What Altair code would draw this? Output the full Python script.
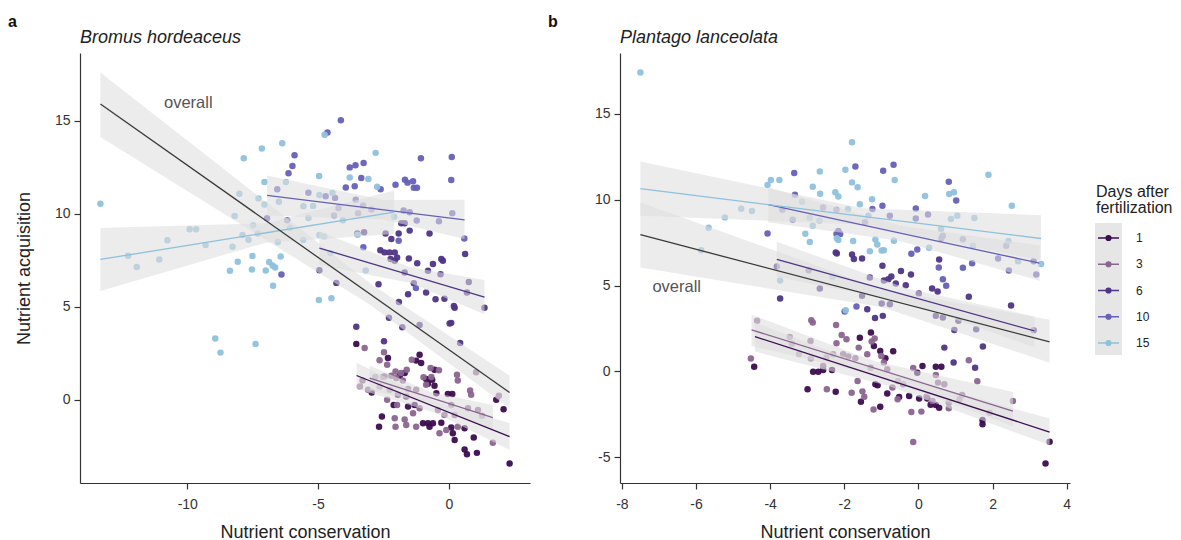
import altair as alt
import pandas as pd

DAYS = ["1", "3", "6", "10", "15"]
DAY_COLORS = ["#3b0c4f", "#8b6590", "#4f3585", "#6660b8", "#8ec1dc"]
OVERALL_COLOR = "#3a3a3a"
FONT = "Liberation Sans"

# ---------------- Panel a : Bromus hordeaceus ----------------
A1 = [(-3.54, 3.01), (-2.33, 2.25), (-1.12, 2.43), (-1.25, 2.11), (-1.06, 1.98), (-0.55, 1.62),
      (-2.95, 0.40), (-2.11, -0.27), (-2.56, -0.90), (-2.67, -1.44), (-1.88, 1.30), (-0.80, 0.86),
      (-0.87, 1.12), (-0.64, 1.08), (-0.55, 0.76), (-0.04, 0.31), (0.13, 0.31), (-0.99, -1.26),
      (-0.80, -1.26), (-0.61, -1.26), (-0.74, -1.44), (-0.29, -1.23), (0.09, -1.48), (0.15, -1.80),
      (0.22, -2.16), (0.60, -1.53), (0.95, -2.02), (0.60, -2.67), (0.69, -2.92), (1.07, -2.85),
      (1.81, 0.00), (2.09, -0.50), (2.32, -3.42), (-1.63, 0.18), (-1.56, -0.36), (-1.31, -0.27),
      (-0.48, 0.36), (-1.95, 0.27), (-1.69, 1.44)]
A3 = [(-3.22, 2.79), (-2.48, 2.56), (-2.65, 2.13), (-2.36, 1.89), (-2.04, 1.53), (-1.83, 1.44),
      (-1.61, 1.62), (-1.42, 2.16), (-2.01, 1.17), (-2.20, 1.30), (-2.46, 1.26), (-3.40, 0.72),
      (-3.30, 1.04), (-3.09, 0.54), (-2.52, 1.23), (-2.81, 1.23), (-1.76, 1.04), (-1.56, 0.58),
      (-1.25, 0.54), (-0.97, 1.21), (-0.87, 0.81), (-0.67, 1.23), (-0.38, 1.59), (-0.70, 1.71),
      (0.31, 1.35), (0.34, 1.04), (0.81, 0.50), (0.85, 0.27), (0.73, -0.45), (1.04, 1.48),
      (1.27, -0.86), (1.11, -0.54), (1.91, 0.22), (1.68, -2.31), (-2.36, 0.00), (-1.98, -0.27),
      (-2.07, -0.99), (-2.04, -1.44), (-1.69, -1.05), (-1.63, -1.35), (-1.25, -1.44), (-1.37, -0.72),
      (-1.12, -0.45), (-0.42, -0.54), (-0.36, -1.80), (-0.10, -1.62), (-0.17, -0.81), (0.22, -0.81),
      (0.09, -0.27), (0.34, -1.44), (-2.65, 0.72), (-2.26, 0.54)]
A6 = [(-4.95, 6.97), (-4.30, 6.29), (-3.54, 3.93), (-3.50, 8.95), (-3.24, 9.01), (-2.42, 8.95),
      (-2.20, 8.65), (-1.92, 8.95), (-1.50, 9.10), (-0.74, 8.95), (-1.82, 9.50), (-1.69, 9.50),
      (-2.62, 8.05), (-2.46, 7.93), (-2.27, 7.93), (-2.07, 7.93), (-1.98, 7.66), (-2.23, 7.57),
      (-2.07, 7.48), (-1.53, 7.60), (-1.21, 7.35), (-0.61, 7.30), (-0.29, 7.57), (-0.23, 7.48),
      (0.62, 7.84), (-2.69, 6.22), (-1.69, 6.85), (-1.34, 6.27), (-0.87, 5.77), (-1.56, 5.68),
      (-1.91, 5.26), (-0.51, 5.41), (-0.17, 5.44), (0.22, 4.95), (0.19, 5.05), (1.36, 4.95),
      (0.03, 4.11), (0.09, 4.14), (0.43, 3.06), (-1.12, 4.02), (-1.78, 3.91), (-2.29, 4.41),
      (-2.48, 3.15), (0.76, 6.34), (0.69, 5.77), (-0.80, 6.94), (-0.32, 6.76)]
A10 = [(-4.13, 15.03), (-4.64, 14.38), (-5.90, 13.15), (-5.98, 12.58), (-6.13, 12.18), (-3.79, 12.50),
       (-3.57, 12.61), (-3.26, 12.74), (-3.94, 11.42), (-3.60, 11.48), (-3.35, 11.93), (-2.61, 11.33),
       (-2.04, 11.57), (-1.68, 11.84), (-1.58, 11.68), (-1.37, 11.75), (-1.34, 11.41), (-1.22, 11.41),
       (-1.07, 12.99), (0.11, 13.06), (0.09, 11.82), (0.59, 8.68), (-1.26, 6.02), (-1.92, 8.56),
       (-3.27, 8.20), (-6.40, 6.74), (-6.56, 11.33), (-5.37, 11.14), (-4.71, 10.95), (-4.35, 10.86),
       (-4.22, 10.32), (-3.56, 10.76), (-3.28, 10.45), (-2.96, 10.23), (-1.73, 10.18), (-1.23, 9.64),
       (-0.38, 9.60), (0.13, 10.04), (-1.50, 10.09), (-3.47, 10.04), (-4.39, 9.91), (-6.18, 9.66),
       (-6.95, 9.77)]
A15 = [(-13.32, 10.54), (-12.26, 7.75), (-11.93, 7.14), (-11.07, 7.55), (-10.76, 8.58), (-9.91, 9.17),
       (-9.66, 9.17), (-9.30, 8.32), (-8.93, 3.30), (-8.73, 2.54), (-8.37, 6.94), (-8.27, 8.23),
       (-8.19, 9.89), (-8.07, 7.42), (-8.01, 11.08), (-7.89, 8.86), (-7.84, 12.99), (-7.66, 8.61),
       (-7.53, 7.01), (-7.51, 7.73), (-7.48, 9.39), (-7.39, 3.01), (-7.30, 8.95), (-7.28, 10.83),
       (-7.15, 13.51), (-7.05, 11.71), (-7.05, 10.50), (-7.00, 6.95), (-6.87, 7.41), (-6.74, 7.23),
       (-6.72, 6.14), (-6.64, 7.12), (-6.54, 8.49), (-6.50, 10.65), (-6.43, 7.71), (-6.37, 13.80),
       (-6.23, 11.71), (-6.08, 9.26), (-5.57, 8.59), (-5.56, 10.41), (-5.37, 9.78), (-5.19, 10.43),
       (-4.97, 5.37), (-4.96, 12.04), (-4.95, 11.01), (-4.95, 8.86), (-4.77, 8.79), (-4.75, 14.25),
       (-4.53, 7.89), (-4.49, 5.46), (-4.45, 11.12), (-4.05, 9.66), (-3.79, 11.95), (-3.49, 8.88),
       (-3.18, 6.95), (-3.08, 11.87), (-2.80, 13.28), (-2.74, 11.46), (-2.09, 9.84)]

# fitted lines: (group, x_start, x_end, y_start, y_end)
A_FITS = [("1", -3.53, 2.32, 1.31, -1.98), ("3", -3.03, 1.68, 1.17, -0.95),
          ("6", -4.95, 1.36, 8.16, 5.53), ("10", -6.95, 0.60, 10.99, 9.68),
          ("15", -13.32, -2.09, 7.55, 10.09), ("overall", -13.32, 2.32, 15.91, 0.40)]
# confidence ribbons: group -> [(x, lower, upper), ...]
A_BANDS = {
    "1": [(-3.53, 0.60, 2.00), (-0.50, -0.70, -0.10), (2.32, -2.70, -1.25)],
    "3": [(-3.03, 0.50, 1.85), (-0.70, -0.18, 0.42), (1.68, -1.63, -0.27)],
    "6": [(-4.95, 7.25, 9.05), (-1.50, 6.30, 7.15), (1.36, 4.60, 6.45)],
    "10": [(-6.95, 9.91, 12.07), (-2.50, 9.70, 10.75), (0.60, 8.65, 10.76)],
    "15": [(-13.32, 5.86, 9.24), (-7.00, 8.45, 9.50), (-2.09, 8.92, 11.26)],
    "overall": [(-13.32, 14.14, 17.60), (-3.00, 5.10, 6.25), (2.32, -0.45, 1.30)],
}

# ---------------- Panel b : Plantago lanceolata ----------------
B1 = [(-4.43, 0.27), (-2.99, -1.05), (-2.84, -0.02), (-2.70, -0.02), (-2.57, 0.08), (-2.33, 0.08),
      (-2.23, -1.19), (-1.58, 1.96), (-1.55, -1.77), (-1.28, 2.26), (-1.16, -0.76), (-1.03, -2.06),
      (-1.03, 1.19), (-0.89, 0.76), (-0.68, 1.17), (-0.84, -1.30), (-0.52, -1.50), (-0.25, -1.44),
      (0.02, -1.58), (0.11, 0.31), (-0.03, -0.08), (0.24, -1.58), (0.33, -1.95), (0.47, 0.27),
      (0.47, -1.96), (0.56, -2.12), (0.62, 0.27), (1.73, -2.84), (1.73, -3.09), (3.54, -4.11),
      (3.43, -5.37), (-1.20, 1.48), (-1.10, -0.82)]
B3 = [(-4.52, 0.74), (-4.35, 2.94), (-3.47, 2.00), (-3.41, 1.61), (-3.22, 1.01), (-2.91, 1.77),
      (-2.90, 0.74), (-2.89, 2.98), (-2.85, 2.84), (-2.47, -1.05), (-2.22, 2.70), (-2.21, 1.63),
      (-2.07, 2.12), (-1.94, 1.87), (-1.89, 0.86), (-1.80, -1.25), (-1.70, 0.76), (-1.64, -0.56),
      (-1.61, 1.38), (-1.51, -1.17), (-1.46, -1.48), (-1.38, 0.99), (-1.29, 0.21), (-1.21, -2.22),
      (-1.26, 1.73), (-1.18, 1.91), (-1.00, 0.89), (-0.93, 0.51), (-0.84, 0.12), (-0.70, -0.95),
      (-0.56, -1.63), (-0.19, -2.37), (-0.14, 0.19), (-0.14, -4.12), (0.08, -2.35), (0.22, -1.48),
      (0.47, -0.21), (0.53, -0.66), (0.70, -0.76), (0.82, -1.83), (0.82, -2.16), (1.11, -1.63),
      (1.18, -1.38), (1.59, -0.58), (1.36, 0.64), (1.92, -2.41), (2.55, -1.73), (-2.48, 0.80),
      (-2.57, 0.31), (-2.30, 0.99), (-2.03, 0.99), (-0.55, -0.56), (-0.41, -0.76), (0.38, -1.73)]
B6 = [(-3.82, 6.11), (-3.73, 4.24), (-2.96, 5.89), (-2.66, 4.82), (-2.20, 6.87), (-1.79, 6.81),
      (-1.74, 6.54), (-1.52, 6.58), (-1.31, 5.47), (-1.52, 4.40), (-1.38, 3.62), (-1.17, 3.11),
      (-0.97, 6.15), (-0.93, 5.29), (-0.99, 3.95), (-0.77, 3.91), (-0.96, 3.23), (-0.81, 5.37),
      (-0.73, 5.53), (-0.61, 5.12), (-0.47, 5.84), (-0.34, 5.02), (-0.20, 5.64), (0.01, 4.53),
      (0.37, 4.82), (0.52, 4.65), (0.56, 6.52), (0.47, 3.23), (0.66, 3.13), (1.08, 2.94),
      (0.97, 2.41), (1.36, 4.34), (1.56, 2.45), (1.74, 1.44), (2.50, 3.83), (3.11, 2.39),
      (0.70, 1.38), (0.95, 0.51), (1.53, 0.21), (-2.23, 6.93)]
B10 = [(-4.07, 8.03), (-3.35, 11.56), (-3.33, 10.29), (-1.70, 11.93), (-0.95, 11.69), (-0.67, 12.04),
       (-0.97, 9.65), (-1.24, 9.46), (0.82, 11.05), (1.02, 9.96), (-0.07, 9.49), (-0.19, 6.85),
       (-0.03, 7.10), (0.55, 6.05), (0.66, 5.37), (0.75, 4.98), (1.20, 6.03), (1.45, 6.30),
       (-2.16, 8.17), (-2.11, 8.00), (-2.21, 8.00), (-1.67, 3.77), (-1.99, 3.48), (-3.67, 9.42),
       (-3.39, 8.83), (-2.57, 9.55), (-2.21, 9.42), (-1.44, 8.68), (-0.77, 9.07), (-0.07, 8.91),
       (0.26, 9.14), (0.62, 7.76), (1.20, 7.70), (2.37, 7.32), (2.15, 6.58), (3.11, 6.42),
       (3.18, 5.64), (2.44, 5.88), (0.66, 7.90)]
B15 = [(-7.50, 17.41), (-5.86, 7.06), (-5.66, 8.37), (-5.22, 8.97), (-4.78, 9.47), (-4.49, 9.34),
       (-4.07, 10.86), (-3.98, 11.15), (-3.75, 11.15), (-3.73, 5.29), (-3.14, 9.88), (-3.05, 8.02),
       (-2.93, 7.53), (-2.93, 8.95), (-2.85, 10.76), (-2.85, 8.48), (-2.66, 11.65), (-2.65, 10.35),
       (-2.67, 8.77), (-2.24, 10.43), (-2.16, 10.19), (-2.20, 7.76), (-2.16, 7.65), (-2.32, 5.51),
       (-1.97, 11.75), (-1.96, 3.56), (-1.90, 9.45), (-1.79, 13.35), (-1.79, 11.01), (-1.76, 7.59),
       (-1.64, 10.72), (-1.58, 9.73), (-1.35, 9.07), (-1.31, 7.00), (-1.25, 10.02), (-1.16, 7.68),
       (-1.11, 7.39), (-0.99, 7.04), (-0.93, 7.06), (-0.66, 7.61), (-0.64, 11.15), (0.18, 10.21),
       (0.29, 7.20), (0.61, 8.29), (0.83, 10.33), (0.96, 10.43), (1.05, 9.07), (0.88, 8.87),
       (1.51, 8.93), (1.89, 11.46), (2.52, 9.65), (2.43, 7.59), (3.31, 6.25), (2.69, 6.42),
       (1.47, 7.32)]

B_FITS = [("1", -4.41, 3.54, 2.02, -3.54), ("3", -4.50, 2.55, 2.41, -2.32),
          ("6", -3.82, 3.13, 6.52, 2.35), ("10", -4.05, 3.27, 9.71, 6.30),
          ("15", -7.50, 3.31, 10.64, 7.74), ("overall", -7.50, 3.54, 7.96, 1.71)]
B_BANDS = {
    "1": [(-4.41, 1.15, 2.85), (-0.80, -0.85, -0.15), (3.54, -4.30, -2.75)],
    "3": [(-4.50, 1.48, 3.30), (-1.20, -0.20, 0.60), (2.55, -3.20, -1.20)],
    "6": [(-3.82, 5.50, 7.55), (-0.30, 4.00, 4.82), (3.13, 1.40, 3.20)],
    "10": [(-4.05, 8.68, 10.72), (-0.50, 7.60, 8.50), (3.27, 5.27, 7.35)],
    "15": [(-7.50, 9.07, 12.22), (-1.50, 8.55, 9.50), (3.31, 6.45, 9.10)],
    "overall": [(-7.50, 6.05, 9.84), (-1.00, 3.75, 4.80), (3.54, 0.50, 3.00)],
}

COLOR_DOMAIN = DAYS + ["overall"]
COLOR_RANGE = DAY_COLORS + [OVERALL_COLOR]


def build_frames(groups, fits, bands):
    pts = pd.DataFrame([{"g": g, "x": x, "y": y} for g, arr in groups for x, y in arr])
    lines = pd.DataFrame([r for g, x0, x1, y0, y1 in fits
                          for r in ({"g": g, "x": x0, "y": y0}, {"g": g, "x": x1, "y": y1})])
    bnd = pd.DataFrame([{"g": g, "x": x, "lo": lo, "hi": hi}
                        for g, arr in bands.items() for x, lo, hi in arr])
    return pts, lines, bnd


def panel(groups, fits, bands, xdom, ydom, xticks, yticks, title, letter, ov_xy, ytitle):
    pts, lines, bnd = build_frames(groups, fits, bands)
    xs = alt.Scale(domain=xdom, nice=False, zero=False)
    ys = alt.Scale(domain=ydom, nice=False, zero=False)
    xax = alt.Axis(values=xticks, labelExpr="datum.value + ''", labelPadding=8, titlePadding=12)
    if ytitle:
        yax = alt.Axis(values=yticks, labelExpr="datum.value + ''", titlePadding=21)
    else:
        yax = alt.Axis(values=yticks, labelExpr="datum.value + ''")
    X = alt.X("x:Q", scale=xs, axis=xax, title="Nutrient conservation")
    Yp = alt.Y("y:Q", scale=ys, axis=yax, title=ytitle)
    Yb = alt.Y("lo:Q", scale=ys, axis=yax, title=ytitle)
    col = alt.Color("g:N", scale=alt.Scale(domain=COLOR_DOMAIN, range=COLOR_RANGE), legend=None)

    p_layer = alt.Chart(pts).mark_circle(size=42, opacity=0.95).encode(x=X, y=Yp, color=col)
    b_layer = alt.Chart(bnd).mark_area(color="#dddddd", opacity=0.56).encode(
        x=X, y=Yb, y2="hi:Q", detail="g:N")
    l_layer = alt.Chart(lines).mark_line(strokeWidth=1.3).encode(x=X, y=Yp, color=col, detail="g:N")
    ov = alt.Chart(pd.DataFrame({"x": [ov_xy[0]], "y": [ov_xy[1]], "t": ["overall"]})).mark_text(
        fontSize=16.5, color="#555555", align="center", baseline="middle").encode(x=X, y=Yp, text="t:N")
    lt = alt.Chart(pd.DataFrame({"t": [letter]})).mark_text(
        fontSize=16, fontWeight="bold", align="left", baseline="alphabetic", color="#111111").encode(
        x=alt.value(-72), y=alt.value(-26), text="t:N")
    tt = alt.Chart(pd.DataFrame({"t": [title]})).mark_text(
        fontSize=18, fontStyle="italic", align="left", baseline="alphabetic", color="#222222").encode(
        x=alt.value(0), y=alt.value(-10), text="t:N")
    return alt.layer(p_layer, b_layer, l_layer, ov, lt, tt).properties(width=450, height=430)


panel_a = panel([("1", A1), ("3", A3), ("6", A6), ("10", A10), ("15", A15)], A_FITS, A_BANDS,
                [-14.1, 3.1], [-4.47, 18.65], [-10, -5, 0], [0, 5, 10, 15],
                "Bromus hordeaceus", "a", (-9.96, 15.95), "Nutrient acquisition")
panel_b = panel([("1", B1), ("3", B3), ("6", B6), ("10", B10), ("15", B15)], B_FITS, B_BANDS,
                [-8.05, 4.09], [-6.51, 18.55], [-8, -6, -4, -2, 0, 2, 4], [-5, 0, 5, 10, 15],
                "Plantago lanceolata", "b", (-6.52, 4.92), None)

# ---------------- legend (drawn left of its tiny plot area, which sits 90 px right of panel b) ----
LX = -65
leg_df = pd.DataFrame({"g": DAYS})
leg_y = alt.Y("g:N", scale=alt.Scale(type="point", domain=DAYS, range=[185, 290], padding=0), axis=None)
leg_col = alt.Color("g:N", scale=alt.Scale(domain=COLOR_DOMAIN, range=COLOR_RANGE), legend=None)
one = pd.DataFrame({"t": ["Days after\nfertilization"]})
leg_bg = alt.Chart(one).mark_rect(color="#e6e6e6").encode(
    x=alt.value(LX), x2=alt.value(LX + 27), y=alt.value(170), y2=alt.value(302))
leg_title = alt.Chart(one).mark_text(align="left", baseline="alphabetic", fontSize=16, lineBreak="\n",
                                     lineHeight=16, color="#222222").encode(
    x=alt.value(LX + 1), y=alt.value(144), text="t:N")
leg_rule = alt.Chart(leg_df).mark_rule(strokeWidth=1.5).encode(
    x=alt.value(LX + 3), x2=alt.value(LX + 24), y=leg_y, color=leg_col)
leg_pt = alt.Chart(leg_df).mark_circle(size=38, opacity=1).encode(
    x=alt.value(LX + 13.5), y=leg_y, color=leg_col)
leg_txt = alt.Chart(leg_df).mark_text(align="left", baseline="middle", fontSize=12, color="#222222").encode(
    x=alt.value(LX + 41), y=leg_y, text="g:N")
legend = alt.layer(leg_bg, leg_title, leg_rule, leg_pt, leg_txt).properties(width=10, height=430)

chart = alt.hconcat(panel_a, panel_b, legend, spacing=90, bounds="flush").resolve_scale(
    x="independent", y="independent").properties(
    padding={"left": 8, "top": 14, "right": 5, "bottom": 0}
).configure(font=FONT).configure_axis(
    domainColor="#333333", tickColor="#333333", labelColor="#333333", titleColor="#222222",
    labelFont=FONT, titleFont=FONT, labelFontSize=14, titleFontSize=18, titleFontWeight="normal",
    grid=False, tickSize=6, domainWidth=1.2, tickWidth=1.2, labelPadding=4
).configure_view(strokeWidth=0)

chart.save("out.html", embed_options={"renderer": "svg", "actions": False})
